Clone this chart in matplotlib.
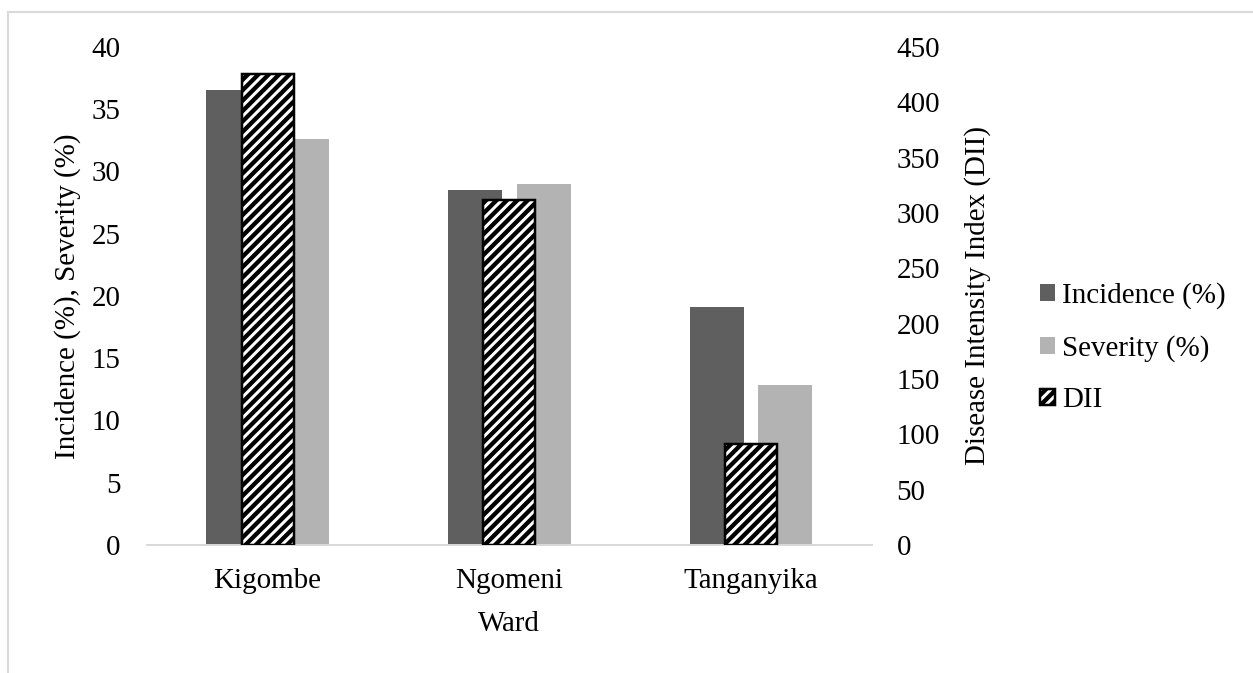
'''
    Grouped bar chart of disease incidence, severity and DII per ward
'''
# import required libraries
import matplotlib
matplotlib.use('Agg')
import matplotlib.pyplot as plt
from matplotlib.lines import Line2D
import numpy as np

# data
wards = ['Kigombe', 'Ngomeni', 'Tanganyika']
incidence = [36.55, 28.5, 19.1]
severity = [32.6, 29.0, 12.85]
dii = [426, 312, 91]

# configure matplotlib
DPI = 156
matplotlib.rcParams['font.family'] = ['Liberation Serif', 'DejaVu Serif']
matplotlib.rcParams['font.size'] = 13.4
matplotlib.rcParams['hatch.linewidth'] = 2.0


def main():
    '''
        @main
    '''
    fig = plt.figure(figsize=(1253 / DPI, 673 / DPI), dpi=DPI)
    ax = fig.add_axes([0.1171, 0.1902, 0.5786, 0.7400])
    ax2 = ax.twinx()

    x = np.arange(len(wards))
    w = 0.2235
    off = 0.142

    # primary axis bars
    b1 = ax.bar(x - off, incidence, w, color='#5f5f5f', label='Incidence (%)')
    b2 = ax.bar(x + off, severity, w, color='#b3b3b3', label='Severity (%)')

    # secondary axis bars (hatched, on top)
    b3 = ax2.bar(x, dii, 0.215, facecolor='white', edgecolor='black',
                 linewidth=1.15, hatch='/////', label='DII')

    ax.set_xlim(-0.5, 2.5)
    ax.set_ylim(0, 40)
    ax2.set_ylim(0, 450)
    ax.set_yticks(np.arange(0, 41, 5))
    ax2.set_yticks(np.arange(0, 451, 50))
    ax.set_xticks(x)
    ax.set_xticklabels(wards)

    # excel like look: no tick marks, only a light baseline
    for a in (ax, ax2):
        for s in a.spines.values():
            s.set_visible(False)
    ax.spines['bottom'].set_visible(True)
    ax.spines['bottom'].set_color('#d9d9d9')
    ax.spines['bottom'].set_linewidth(0.9)
    ax.tick_params(axis='y', length=0, pad=12)
    ax.tick_params(axis='x', length=0, pad=10.5)
    ax2.tick_params(axis='y', length=0, pad=11.5)

    ax.set_xlabel('Ward', labelpad=8)
    ax.set_ylabel('Incidence (%), Severity (%)')
    ax2.set_ylabel('Disease Intensity Index (DII)')
    ax.yaxis.set_label_coords(-0.09, 0.5)
    ax2.yaxis.set_label_coords(1.127, 0.5)

    fig.legend([b1, b2, b3], ['Incidence (%)', 'Severity (%)', 'DII'],
               loc='center left', bbox_to_anchor=(1040 / 1253, 0.483),
               bbox_transform=fig.transFigure, frameon=False,
               borderpad=0, borderaxespad=0, handlelength=0.5,
               handleheight=0.5, handletextpad=0.25, labelspacing=0.88)

    # thin grey chart border (left and top)
    fx = 8 / 1253
    fy = 1 - 12 / 673
    fig.add_artist(Line2D([fx, fx], [0, fy], color='#d9d9d9', lw=0.95,
                          transform=fig.transFigure))
    fig.add_artist(Line2D([fx, 1], [fy, fy], color='#d9d9d9', lw=0.95,
                          transform=fig.transFigure))

    fig.savefig('out.png', dpi=DPI, facecolor='white')


if __name__ == '__main__':
    main()
